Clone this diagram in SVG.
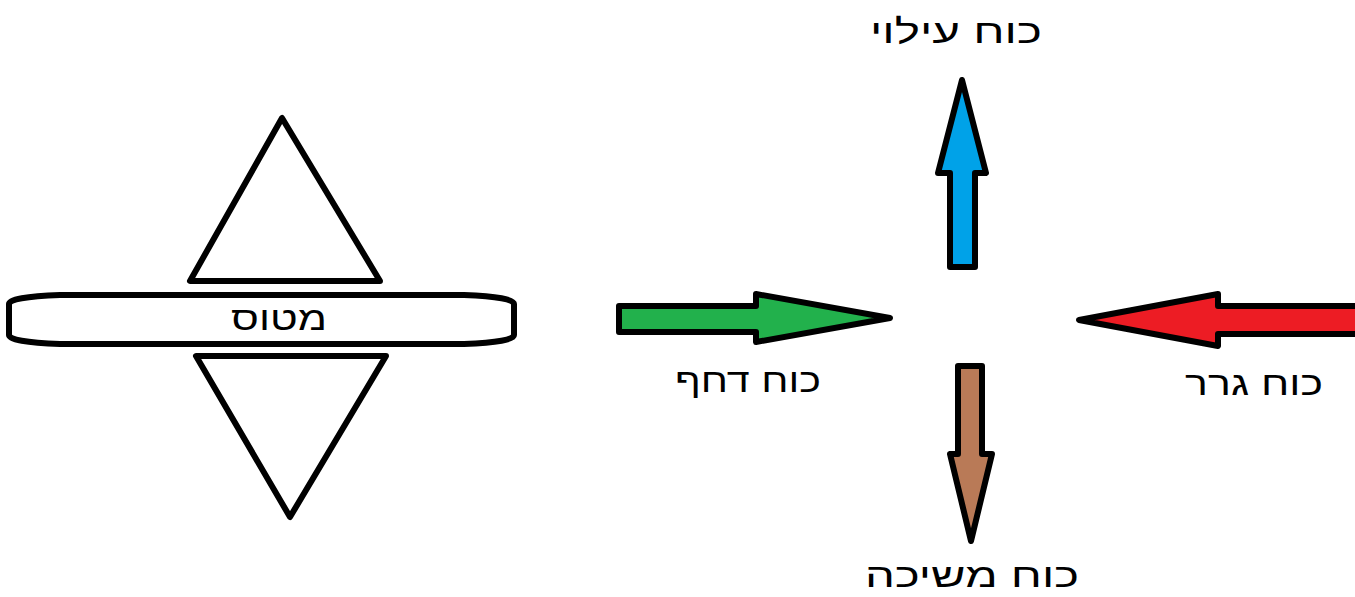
<svg xmlns="http://www.w3.org/2000/svg" width="1355" height="597" viewBox="0 0 1355 597">
<style>
.o{stroke:#000;stroke-width:6;stroke-linejoin:round;fill:#fff}
.a{stroke:#000;stroke-width:6;stroke-linejoin:round}
.t{font-family:"Liberation Sans","DejaVu Sans",sans-serif;font-size:34px;fill:#000;text-anchor:middle;direction:rtl}
</style>
<rect width="1355" height="597" fill="#fff"/>
<g id="plane">
<polygon class="o" points="282,118 190,281 380,281"/>
<polygon class="o" points="196,356 386,356 290,517"/>
<path class="o" d="M60,295 L464,295 Q514,297 514,304 L514,335 Q514,342 464,344 L60,344 Q9,342 9,335 L9,304 Q9,297 60,295 Z"/>
<text class="t" x="279" y="330" textLength="96" lengthAdjust="spacingAndGlyphs">מטוס</text>
</g>
<g id="connectors">
<g id="thrust">
<polygon class="a" fill="#22b14c" points="619,306 756,306 756,294 890,318 756,342 756,332 619,332"/>
<text class="t" x="748" y="392" textLength="146" lengthAdjust="spacingAndGlyphs">כוח דחף</text>
</g>
<g id="drag">
<polygon class="a" fill="#ed1c24" points="1358,306 1218,306 1218,294 1079,320 1218,346 1218,334 1358,334"/>
<text class="t" x="1254" y="395" textLength="138" lengthAdjust="spacingAndGlyphs">כוח גרר</text>
</g>
<g id="lift">
<polygon class="a" fill="#00a2e8" points="962,80 986,173 975,173 975,267 950,267 950,173 938,173"/>
<text class="t" x="956" y="43" textLength="172" lengthAdjust="spacingAndGlyphs">כוח עילוי</text>
</g>
<g id="weight">
<polygon class="a" fill="#b97a57" points="958,366 982,366 982,454 992,454 971,541 950,454 958,454"/>
<text class="t" x="972" y="587" textLength="214" lengthAdjust="spacingAndGlyphs">כוח משיכה</text>
</g>
</g>
</svg>
